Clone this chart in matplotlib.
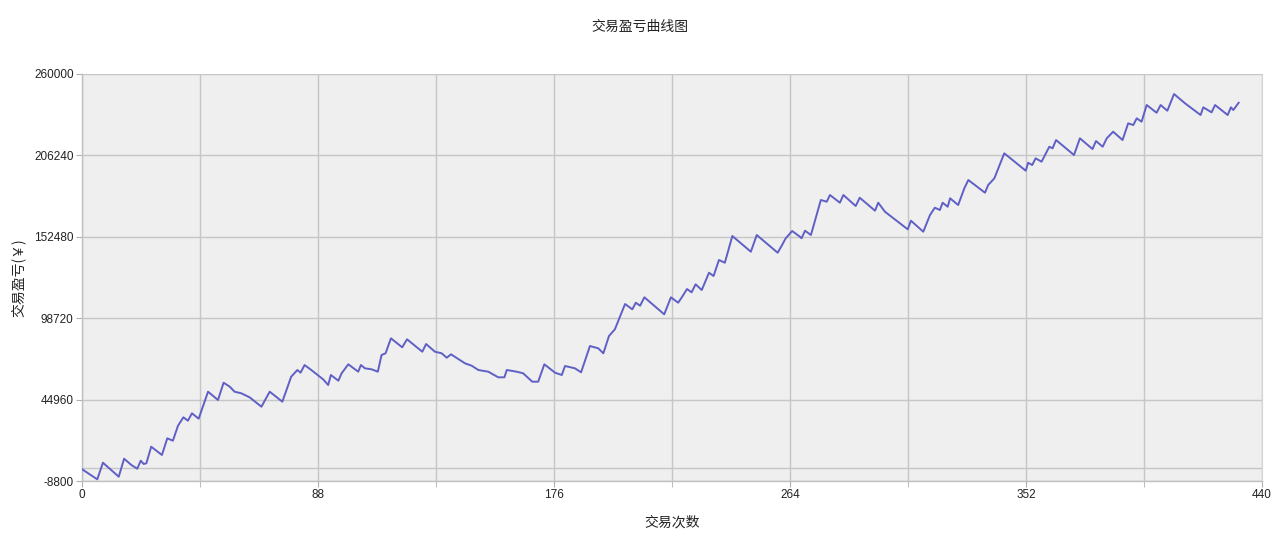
import matplotlib
matplotlib.use('Agg')
import matplotlib.pyplot as plt
from matplotlib.ticker import FixedLocator

plt.rcParams['font.family'] = ['Noto Sans CJK SC', 'DejaVu Sans']

# trade count (x) and cumulative profit (y)
trades = [0, 5.7, 7.8, 13.7, 15.7, 18.4, 20.6, 21.9, 23.0, 24.0, 25.8, 29.8, 31.8, 33.9, 35.8,
          37.8, 39.5, 41.0, 43.5, 47.0, 50.7, 52.8, 55.1, 56.9, 59.4, 62.5, 66.9, 68.3, 70.0,
          74.7, 78.0, 80.3, 81.5, 83.0, 85.5, 89.9, 91.8, 92.8, 95.6, 96.8, 99.3, 103.0, 104.0,
          105.5, 108.0, 110.3, 111.7, 113.2, 115.2, 119.4, 121.2, 126.9, 128.3, 131.6, 134.1,
          136.0, 137.6, 142.8, 145.3, 147.8, 151.5, 155.2, 157.5, 158.4, 162.1, 164.5, 167.9,
          170.1, 172.4, 176.4, 178.9, 180.1, 183.8, 186.1, 189.4, 192.5, 194.4, 196.5, 198.7,
          202.5, 205.2, 206.5, 208.1, 209.7, 217.1, 219.6, 222.3, 223.8, 225.6, 227.3, 228.8,
          231.1, 233.8, 235.5, 237.5, 239.7, 242.5, 249.4, 251.6, 259.4, 260.9, 262.4, 264.8,
          267.7, 268.3, 269.6, 271.8, 275.5, 277.7, 278.9, 282.6, 283.9, 288.5, 290.0, 295.7,
          296.9, 299.4, 307.9, 309.1, 313.7, 316.2, 318.0, 319.9, 320.9, 322.8, 323.7, 326.7,
          329.0, 330.5, 336.7, 337.9, 340.2, 343.9, 351.9, 352.8, 354.3, 355.6, 357.8, 359.4,
          360.7, 361.9, 363.2, 369.9, 372.1, 376.8, 378.1, 380.6, 382.1, 384.5, 388.0, 390.1,
          392.0, 393.3, 395.1, 397.0, 400.7, 402.2, 404.7, 407.2, 411.3, 417.1, 418.1, 421.2,
          422.5, 427.2, 428.4, 429.3, 431.3]
profit = [-1000, -7700, 3285, -5960, 5927, 1766, -677, 4606, 2427, 2889, 13852, 8370, 19399,
          17814, 27720, 33267, 31022, 35909, 32343, 50174, 44692, 56117, 53476, 50174, 49117,
          46476, 40268, 44692, 50174, 43570, 60080, 64504, 62721, 67806, 64504, 58363, 54598,
          61202, 57438, 62325, 68269, 63382, 67806, 65627, 64966, 63382, 74410, 75533, 85439,
          79495, 84779, 76590, 81675, 76590, 75533, 72627, 74873, 68929, 67344, 64504, 63382,
          59683, 59683, 64504, 63382, 62325, 56778, 56778, 68269, 62721, 61202, 67146, 65627,
          62985, 80354, 78835, 75533, 86958, 91383, 108091, 104591, 108949, 106968, 112515,
          101289, 112515, 108949, 112912, 117997, 115817, 121101, 117336, 128761, 126582,
          137148, 135365, 152998, 142630, 153658, 141969, 146592, 151479, 156300, 152536,
          151479, 156498, 153658, 176772, 175650, 180074, 174989, 180074, 172810, 178291,
          169706, 174989, 169046, 157423, 163102, 155838, 166866, 171687, 170168, 174989,
          172348, 177895, 173470, 184499, 189980, 181593, 186678, 191103, 207613, 196122,
          201405, 199886, 204311, 202066, 207613, 211972, 210915, 216396, 206490, 217519,
          210453, 215736, 211972, 217519, 221878, 216396, 227425, 226302, 230727, 228482,
          239510, 234425, 239510, 235746, 246775, 240633, 232906, 237991, 234689, 239510,
          232906, 237991, 236208, 241029]

x_ticks = [0, 88, 176, 264, 352, 440]
x_minor = [44, 132, 220, 308, 396]
y_ticks = [-8800, 44960, 98720, 152480, 206240, 260000]
y_minor = [0]

fig = plt.figure(figsize=(12.8, 5.46), dpi=100)
ax = fig.add_axes([82 / 1280, 1 - 481 / 546, 1180 / 1280, 407 / 546])
ax.set_facecolor('#efefef')

ax.plot(trades, profit, color='#5f5fc6', linewidth=1.4, zorder=3)

ax.set_xlim(0, 440)
ax.set_ylim(-8800, 260000)
ax.xaxis.set_major_locator(FixedLocator(x_ticks))
ax.xaxis.set_minor_locator(FixedLocator(x_minor))
ax.yaxis.set_major_locator(FixedLocator(y_ticks))
ax.yaxis.set_minor_locator(FixedLocator(y_minor))
ax.set_xticklabels([str(v) for v in x_ticks])
ax.set_yticklabels([str(v) for v in y_ticks])

ax.grid(True, which='both', color='#c6c6c6', linewidth=1.0, zorder=0)
ax.set_axisbelow(True)
ax.tick_params(axis='both', which='major', length=4, color='#b0b0b0', labelsize=8.5,
               labelcolor='#222222', pad=2)
ax.tick_params(axis='x', which='minor', length=4, color='#b0b0b0')
ax.tick_params(axis='y', which='minor', length=0)
for lab in ax.get_xticklabels() + ax.get_yticklabels():
    lab.set_family(['Liberation Sans', 'DejaVu Sans'])

ax.spines['top'].set_visible(False)
ax.spines['right'].set_color('#d4d4d4')
for side in ['left', 'bottom']:
    ax.spines[side].set_color('#c0c0c0')
    ax.spines[side].set_linewidth(1.0)

fig.text(0.5, 1 - 27 / 546, '交易盈亏曲线图', ha='center', va='center', fontsize=10, color='#222222')
ax.set_xlabel('交易次数', fontsize=10, color='#222222', labelpad=10)
ax.set_ylabel('交易盈亏(￥)', fontsize=10, color='#222222', labelpad=6)

fig.savefig('out.png', dpi=100)
